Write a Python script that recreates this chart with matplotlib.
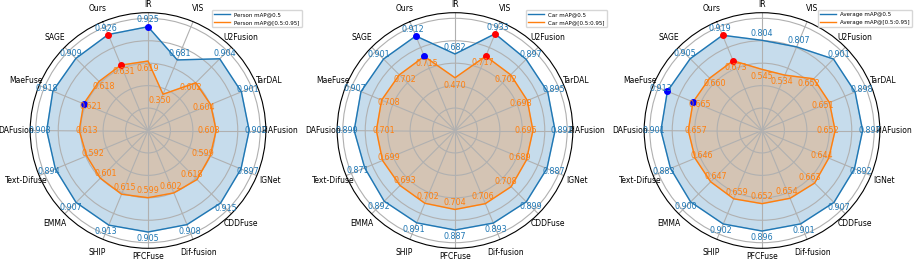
import numpy as np
import matplotlib
matplotlib.use("Agg")
import matplotlib.pyplot as plt

# === Data ===
categories = ["Ours", "IR", "VIS", "U2Fusion", "TarDAL", "PIAFusion", "IGNet", "CDDFuse",
              "Dif-fusion", "PFCFuse", "SHIP", "EMMA", "Text-Difuse", "DAFusion", "MaeFuse", "SAGE"]

person_map50 = [0.926, 0.925, 0.681, 0.904, 0.901, 0.902, 0.897, 0.915,
                0.908, 0.905, 0.913, 0.907, 0.894, 0.903, 0.918, 0.909]
person_map5095 = [0.631, 0.619, 0.350, 0.602, 0.604, 0.608, 0.599, 0.618,
                  0.602, 0.599, 0.615, 0.601, 0.592, 0.613, 0.621, 0.618]

car_map50 = [0.912, 0.682, 0.933, 0.897, 0.895, 0.892, 0.887, 0.899,
             0.893, 0.887, 0.891, 0.892, 0.871, 0.899, 0.907, 0.901]
car_map5095 = [0.715, 0.470, 0.717, 0.702, 0.698, 0.695, 0.689, 0.708,
               0.706, 0.704, 0.702, 0.693, 0.699, 0.701, 0.708, 0.702]

avg_map50 = [0.919, 0.804, 0.807, 0.901, 0.898, 0.897, 0.892, 0.907,
             0.901, 0.896, 0.902, 0.900, 0.883, 0.901, 0.913, 0.905]
avg_map5095 = [0.673, 0.545, 0.534, 0.652, 0.651, 0.652, 0.644, 0.663,
               0.654, 0.652, 0.659, 0.647, 0.646, 0.657, 0.665, 0.660]

panels = [
    ("Person", person_map50, person_map5095),
    ("Car", car_map50, car_map5095),
    ("Average", avg_map50, avg_map5095),
]

# === Figure ===
W, H = 916, 261
fig = plt.figure(figsize=(W / 100, H / 100), dpi=100)

R = 117.8            # polar radius in pixels
RMAX = 1.05
centers_x = [148, 455, 762]
center_y = 130.5     # from top
legend_x = [1.152, 1.145, 1.137]

n = len(categories)
angles = np.linspace(0, 2 * np.pi, n, endpoint=False)
angles_closed = np.concatenate([angles, angles[:1]])

blue = "#1f77b4"
orange = "#ff7f0e"

for (name, s1, s2), cx, lx in zip(panels, centers_x, legend_x):
    rect = [(cx - R) / W, (H - center_y - R) / H, 2 * R / W, 2 * R / H]
    ax = fig.add_axes(rect, projection="polar")
    ax.set_theta_offset(np.pi / 2 + 2 * np.pi / n)
    ax.set_theta_direction(-1)

    for vals, color, lab, off in [(s1, blue, f"{name} mAP@0.5", 0.062),
                                  (s2, orange, f"{name} mAP@[0.5:0.95]", -0.065)]:
        v = np.array(vals)
        vc = np.concatenate([v, v[:1]])
        ax.plot(angles_closed, vc, color=color, linewidth=1.0, label=lab)
        ax.fill(angles_closed, vc, color=color, alpha=0.25)

        # best (red) and second best (blue) markers
        order = np.argsort(v)[::-1]
        ax.plot(angles[order[0]], v[order[0]], "o", color="red", markersize=4, zorder=5)
        ax.plot(angles[order[1]], v[order[1]], "o", color="blue", markersize=4, zorder=5)

        for a, val in zip(angles, v):
            ax.text(a, val + off, f"{val:.3f}", color=color, fontsize=5.8,
                    ha="center", va="center", zorder=6)

    ax.set_ylim(0, RMAX)
    ax.set_yticks([0.2, 0.4, 0.6, 0.8, 1.0])
    ax.set_yticklabels([])
    ax.set_xticks(angles)
    ax.set_xticklabels([])
    ax.spines["polar"].set_linewidth(0.8)

    # category labels, centred just outside the circle
    for i, (a, cat) in enumerate(zip(angles, categories)):
        vertical = i in (1, 9)   # IR at top, PFCFuse at bottom
        dist = R + (7.8 if vertical else 14.0)
        ax.text(a, RMAX * dist / R, cat, fontsize=5.5, ha="center", va="center",
                clip_on=False)

    ax.legend(loc="upper right", bbox_to_anchor=(lx, 1.012), fontsize=4,
              handlelength=2.8, borderaxespad=0)

plt.savefig("out.png", dpi=100)
